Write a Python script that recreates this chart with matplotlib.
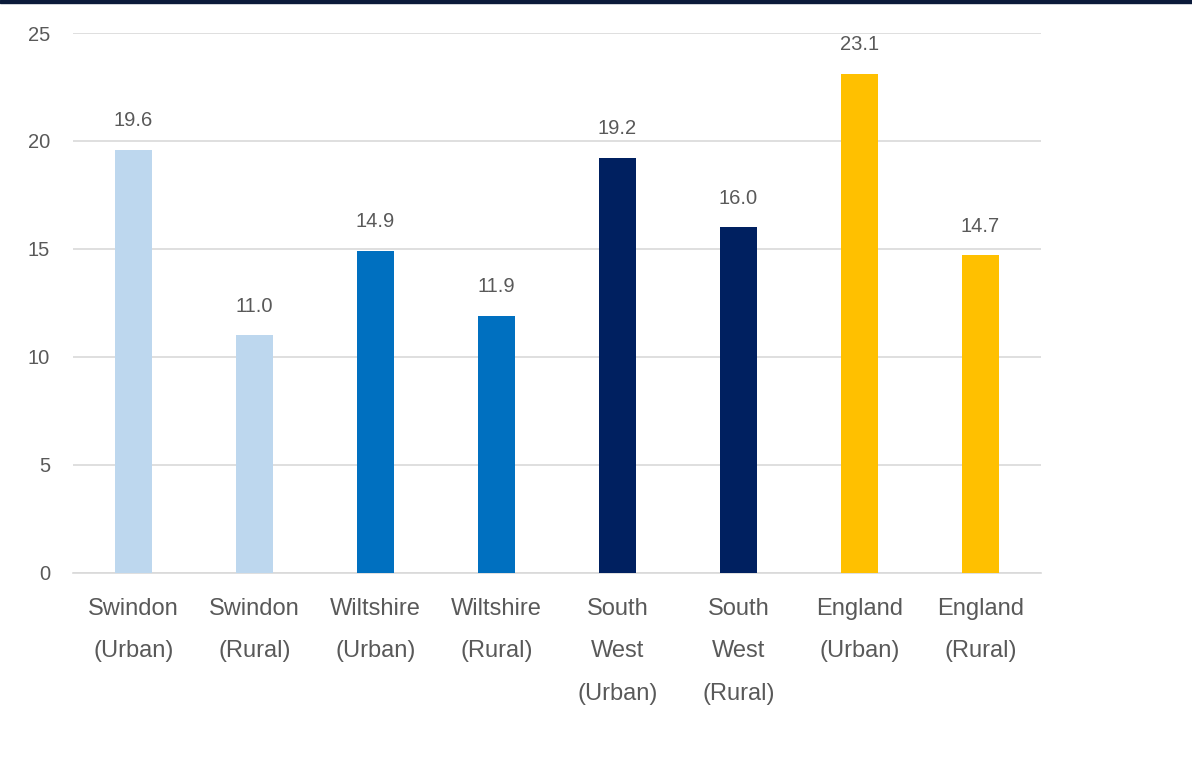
import numpy as np
import matplotlib.pyplot as plt

plt.rcParams['font.family'] = ['Liberation Sans', 'DejaVu Sans']

labels = ['Swindon\n(Urban)', 'Swindon\n(Rural)', 'Wiltshire\n(Urban)', 'Wiltshire\n(Rural)',
          'South\nWest\n(Urban)', 'South\nWest\n(Rural)', 'England\n(Urban)', 'England\n(Rural)']
values = [19.6, 11.0, 14.9, 11.9, 19.2, 16.0, 23.1, 14.7]
colors = ['#BDD7EE', '#BDD7EE', '#0070C0', '#0070C0',
          '#002060', '#002060', '#FFC000', '#FFC000']
yticks = [0, 5, 10, 15, 20, 25]

grey = '#595959'

fig = plt.figure(figsize=(11.92, 7.57), dpi=100)
ax = fig.add_axes([0.0612, 0.2431, 0.8121, 0.7133])

x = np.arange(len(values))
bars = ax.bar(x, values, width=0.31, color=colors, zorder=3)
for b, v in zip(bars, values):
    ax.text(b.get_x() + b.get_width() / 2, v + 0.92, f'{v:.1f}',
            ha='center', va='bottom', fontsize=14.5, color=grey)

ax.set_xlim(-0.5, len(values) - 0.5)
ax.set_ylim(0, 25)
ax.set_yticks(yticks)
ax.yaxis.grid(True, color='#D9D9D9', linewidth=1.2, zorder=0)
ax.set_xticks(x)
ax.set_xticklabels(labels, fontsize=17, color=grey, linespacing=2.2, va='top')
for t in ax.get_yticklabels():
    t.set_fontsize(14.5)
    t.set_color(grey)
ax.tick_params(axis='both', length=0)
ax.tick_params(axis='x', pad=18)
ax.tick_params(axis='y', pad=16.5)
for s in ['top', 'right', 'left']:
    ax.spines[s].set_visible(False)
ax.spines['bottom'].set_color('#D9D9D9')
ax.spines['bottom'].set_linewidth(1.2)

# dark strip along the top edge
fig.add_artist(plt.Rectangle((0, 1 - 3 / 757), 1, 3 / 757, transform=fig.transFigure,
                             color='#0B1A3A', zorder=10))

fig.savefig('out.png', dpi=100)
